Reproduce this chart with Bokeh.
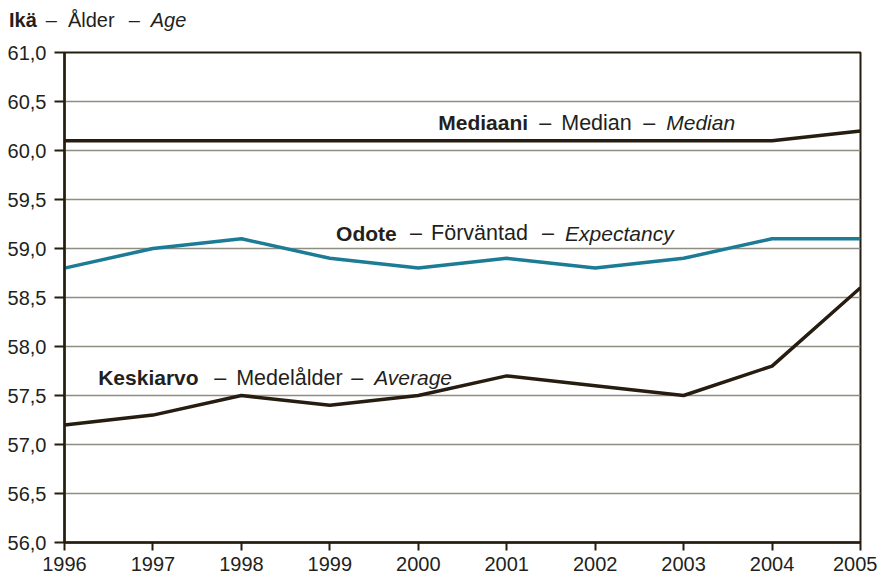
from bokeh.plotting import figure
from bokeh.models import Label, Range1d, FixedTicker, CustomJSTickFormatter, Div
from bokeh.layouts import column
from bokeh.embed import file_html
from bokeh.resources import INLINE

years = [1996, 1997, 1998, 1999, 2000, 2001, 2002, 2003, 2004, 2005]
median = [60.1, 60.1, 60.1, 60.1, 60.1, 60.1, 60.1, 60.1, 60.1, 60.2]
expectancy = [58.8, 59.0, 59.1, 58.9, 58.8, 58.9, 58.8, 58.9, 59.1, 59.1]
average = [57.2, 57.3, 57.5, 57.4, 57.5, 57.7, 57.6, 57.5, 57.8, 58.6]
y_ticks = [56.0, 56.5, 57.0, 57.5, 58.0, 58.5, 59.0, 59.5, 60.0, 60.5, 61.0]

DARK = "#261c10"
TEAL = "#1c7b95"
GRID = "#8f8c80"
TXT = "#231f20"
FONT = "Liberation Sans"

p = figure(width=877, height=539, output_backend="svg", toolbar_location=None,
           x_range=Range1d(1996, 2005), y_range=Range1d(56, 61),
           min_border_left=64, min_border_right=17, min_border_top=12, min_border_bottom=37)

p.background_fill_color = "white"
p.border_fill_color = "white"
p.outline_line_color = DARK
p.outline_line_width = 2

p.xgrid.grid_line_color = None
p.ygrid.grid_line_color = GRID
p.ygrid.grid_line_width = 1.5
p.yaxis.ticker = FixedTicker(ticks=y_ticks)
p.xaxis.ticker = FixedTicker(ticks=years)
p.yaxis.formatter = CustomJSTickFormatter(code="return tick.toFixed(1).replace('.', ',');")

for ax in (p.xaxis, p.yaxis):
    ax.axis_line_color = DARK
    ax.axis_line_width = 2.5
    ax.major_tick_line_color = DARK
    ax.major_tick_line_width = 2
    ax.minor_tick_line_color = None
    ax.major_tick_in = 0
    ax.major_label_text_font = FONT
    ax.major_label_text_font_size = "20px"
    ax.major_label_text_color = TXT
p.yaxis.major_tick_out = 10
p.yaxis.major_label_standoff = 8
p.xaxis.major_tick_out = 8
p.xaxis.major_label_standoff = 6

p.line(years, median, line_color=DARK, line_width=3.5)
p.line(years, expectancy, line_color=TEAL, line_width=3.5)
p.line(years, average, line_color=DARK, line_width=3.5)

def rich(x, y, pieces):
    for off, txt, style in pieces:
        p.add_layout(Label(x=x, y=y, x_offset=off, text=txt, text_font=FONT,
                           text_font_size="21.5px" if style == "normal" else "21px",
                           text_font_style=style,
                           text_color=TXT, text_baseline="alphabetic",
                           text_align="left"))

rich(2000.2255, 60.283, [(0, "Mediaani", "bold"), (101, "–", "normal"),
                         (123, "Median", "normal"), (205, "–", "normal"),
                         (228, "Median", "italic")])
rich(1999.071, 59.156, [(0, "Odote", "bold"), (74, "–", "normal"),
                        (95, "Förväntad", "normal"), (206, "–", "normal"),
                        (229, "Expectancy", "italic")])
rich(1996.381, 57.680, [(0, "Keskiarvo", "bold"), (116, "–", "normal"),
                        (138, "Medelålder", "normal"), (253, "–", "normal"),
                        (276, "Average", "italic")])

title = Div(
    text='<span style="font-weight:bold">Ikä</span>'
         '<span style="margin:0 11px 0 9px">–</span>Ålder'
         '<span style="margin:0 11px 0 14px">–</span><i>Age</i>',
    width=877, height=30,
    styles={"font-family": FONT, "font-size": "20px", "color": TXT,
            "line-height": "30px", "padding-left": "4px", "white-space": "nowrap"})

layout = column(title, p, spacing=0)
open("out.html", "w").write(file_html(layout, INLINE))
